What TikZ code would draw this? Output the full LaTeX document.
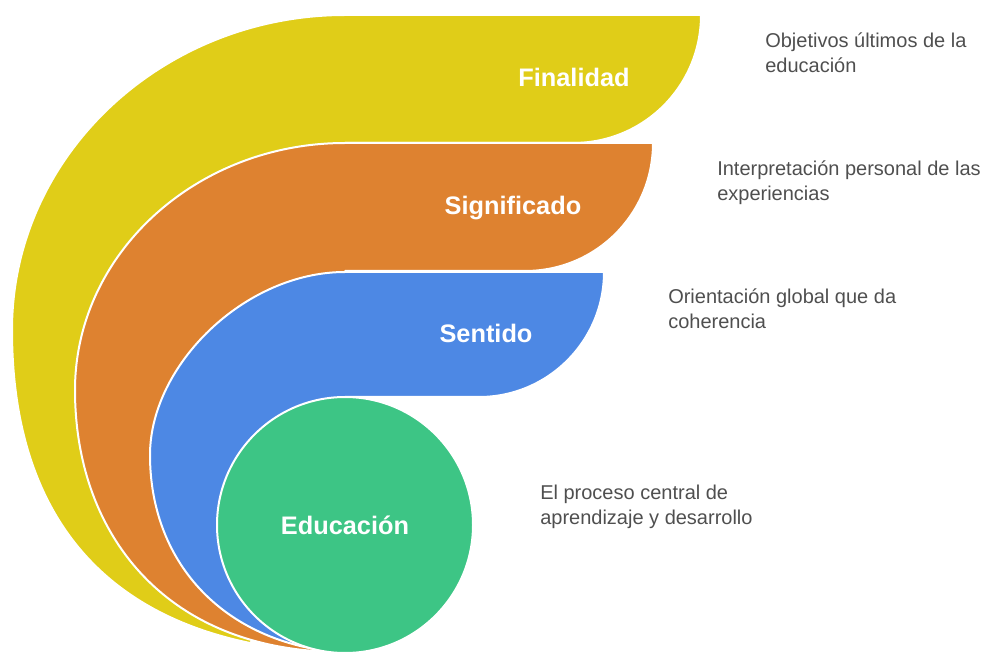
\documentclass[tikz,border=0pt]{standalone}
\usepackage{fontspec}
\setmainfont{Liberation Sans}
\usetikzlibrary{positioning}

\definecolor{finalidad}{HTML}{E0CD18}
\definecolor{significado}{HTML}{DE8230}
\definecolor{sentido}{HTML}{4D88E4}
\definecolor{educacion}{HTML}{3DC585}
\definecolor{notegray}{HTML}{4F4F4F}

\tikzset{
  band/.style={draw=white, line width=1.5pt, line join=round},
  title/.style={text=white, font=\bfseries\fontsize{19}{22}\selectfont},
  note/.style={text=notegray, font=\fontsize{15}{18.75}\selectfont, align=left, anchor=base west, inner sep=0pt}
}

\begin{document}
\begin{tikzpicture}[x=0.75pt, y=-0.75pt]
\useasboundingbox (0,0) rectangle (986,652);

% outer band
\filldraw[band, fill=finalidad] (345,15) -- (701,15)
  .. controls (701,86) and (644,143) .. (573,143) -- (345,143) -- (345,560) -- (250,643)
  .. controls (90,610) and (12,500) .. (12,330)
  .. controls (12,155) and (163,15) .. (345,15) -- cycle;
% middle band
\filldraw[band, fill=significado] (345,143) -- (653,143)
  .. controls (653,214) and (596,271) .. (525,271) -- (345,271) -- (345,600) -- (315,651)
  .. controls (160,640) and (75,530) .. (75,390)
  .. controls (75,254) and (196,143) .. (345,143) -- cycle;
% inner band
\filldraw[band, fill=sentido] (345,272) -- (604,272)
  .. controls (604,341) and (548,397) .. (479,397) -- (345,397) -- (345,620) -- (335,652)
  .. controls (220,640) and (150,560) .. (150,455)
  .. controls (150,365) and (245,272) .. (345,272) -- cycle;
% core
\node[circle, minimum size=192pt, inner sep=0pt, fill=educacion, draw=white, line width=1.5pt, title] (edu) at (345,525) {Educación};

\node[title, anchor=base] (fin) at (574,87) {Finalidad};
\node[title, anchor=base] (sig) at (513,215) {Significado};
\node[title, anchor=base] (sen) at (486,343) {Sentido};

% notes: base = last line
\node[note] (finnote) at (765,73) {Objetivos últimos de la\\educación};
\node[note] (signote) at (717,201) {Interpretación personal de las\\experiencias};
\node[note] (sennote) at (668,329) {Orientación global que da\\coherencia};
\node[note] (edunote) at (540,524) {El proceso central de\\aprendizaje y desarrollo};
\end{tikzpicture}
\end{document}
